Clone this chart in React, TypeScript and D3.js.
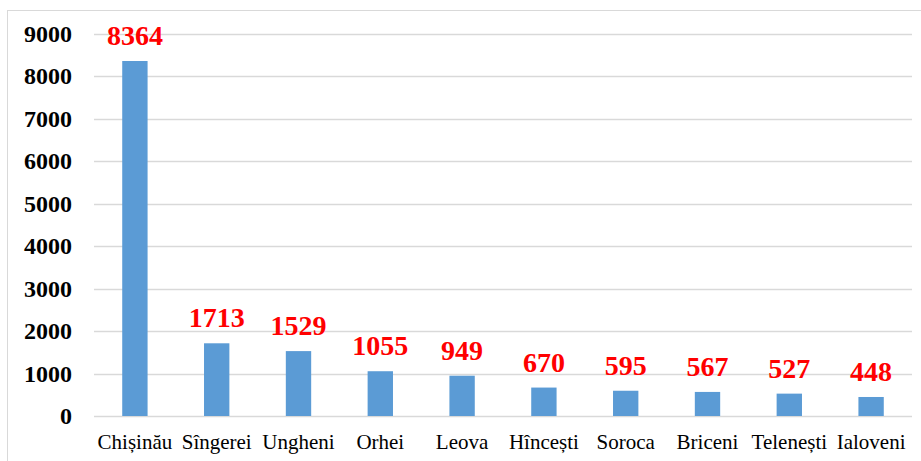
import React, { useEffect, useRef } from 'react';
import * as d3 from 'd3';

const districts = ['Chișinău', 'Sîngerei', 'Ungheni', 'Orhei', 'Leova', 'Hîncești', 'Soroca', 'Briceni', 'Telenești', 'Ialoveni'];
const counts = [8364, 1713, 1529, 1055, 949, 670, 595, 567, 527, 448];
const yTicks = [0, 1000, 2000, 3000, 4000, 5000, 6000, 7000, 8000, 9000];

export default function App() {
    const ref = useRef<SVGSVGElement>(null);

    useEffect(() => {
        if (!ref.current) return;
        const svg = d3.select(ref.current);
        svg.selectAll('*').remove();

        const width = 921, height = 461;
        const margin = { top: 34, right: 9, bottom: 45, left: 94 };
        const font = 'Liberation Serif, Times New Roman, Times, serif';

        // chart frame
        svg.append('rect')
            .attr('x', 7.5).attr('y', 10.5)
            .attr('width', width - 7).attr('height', height)
            .attr('fill', '#fff')
            .attr('stroke', '#d9d9d9');

        const x = d3.scaleBand()
            .domain(districts)
            .range([margin.left, width - margin.right])
            .paddingInner(0.69)
            .paddingOuter(0.345);

        const y = d3.scaleLinear()
            .domain([0, 9000])
            .range([height - margin.bottom, margin.top]);

        const g = svg.append('g');

        g.selectAll('.grid')
            .data(yTicks)
            .enter().append('line')
            .attr('x1', margin.left)
            .attr('x2', width - margin.right)
            .attr('y1', d => Math.round(y(d)) + 0.5)
            .attr('y2', d => Math.round(y(d)) + 0.5)
            .attr('stroke', '#d9d9d9')
            .attr('stroke-width', 1.3);

        g.selectAll('.ytick')
            .data(yTicks)
            .enter().append('text')
            .attr('x', 72)
            .attr('y', d => y(d) + 8)
            .attr('text-anchor', 'end')
            .attr('font-family', font)
            .attr('font-size', 24)
            .attr('font-weight', 'bold')
            .attr('fill', '#000')
            .text(d => d);

        const rows = districts.map((name, i) => ({ name, value: counts[i] }));

        g.selectAll('.bar')
            .data(rows)
            .enter().append('rect')
            .attr('x', d => x(d.name)!)
            .attr('width', x.bandwidth())
            .attr('y', d => y(d.value))
            .attr('height', d => y(0) - y(d.value))
            .attr('fill', '#5b9bd5');

        g.selectAll('.val')
            .data(rows)
            .enter().append('text')
            .attr('x', d => x(d.name)! + x.bandwidth() / 2)
            .attr('y', d => y(d.value) - 16)
            .attr('text-anchor', 'middle')
            .attr('font-family', font)
            .attr('font-size', 28)
            .attr('font-weight', 'bold')
            .attr('fill', '#ff0000')
            .text(d => d.value);

        g.selectAll('.cat')
            .data(rows)
            .enter().append('text')
            .attr('x', d => x(d.name)! + x.bandwidth() / 2)
            .attr('y', 449)
            .attr('text-anchor', 'middle')
            .attr('font-family', font)
            .attr('font-size', 21)
            .attr('fill', '#000')
            .text(d => d.name);
    }, []);

    return (
        <svg ref={ref} width={921} height={461}
            style={{ position: 'absolute', left: 0, top: 0, background: '#fff' }} />
    );
}
